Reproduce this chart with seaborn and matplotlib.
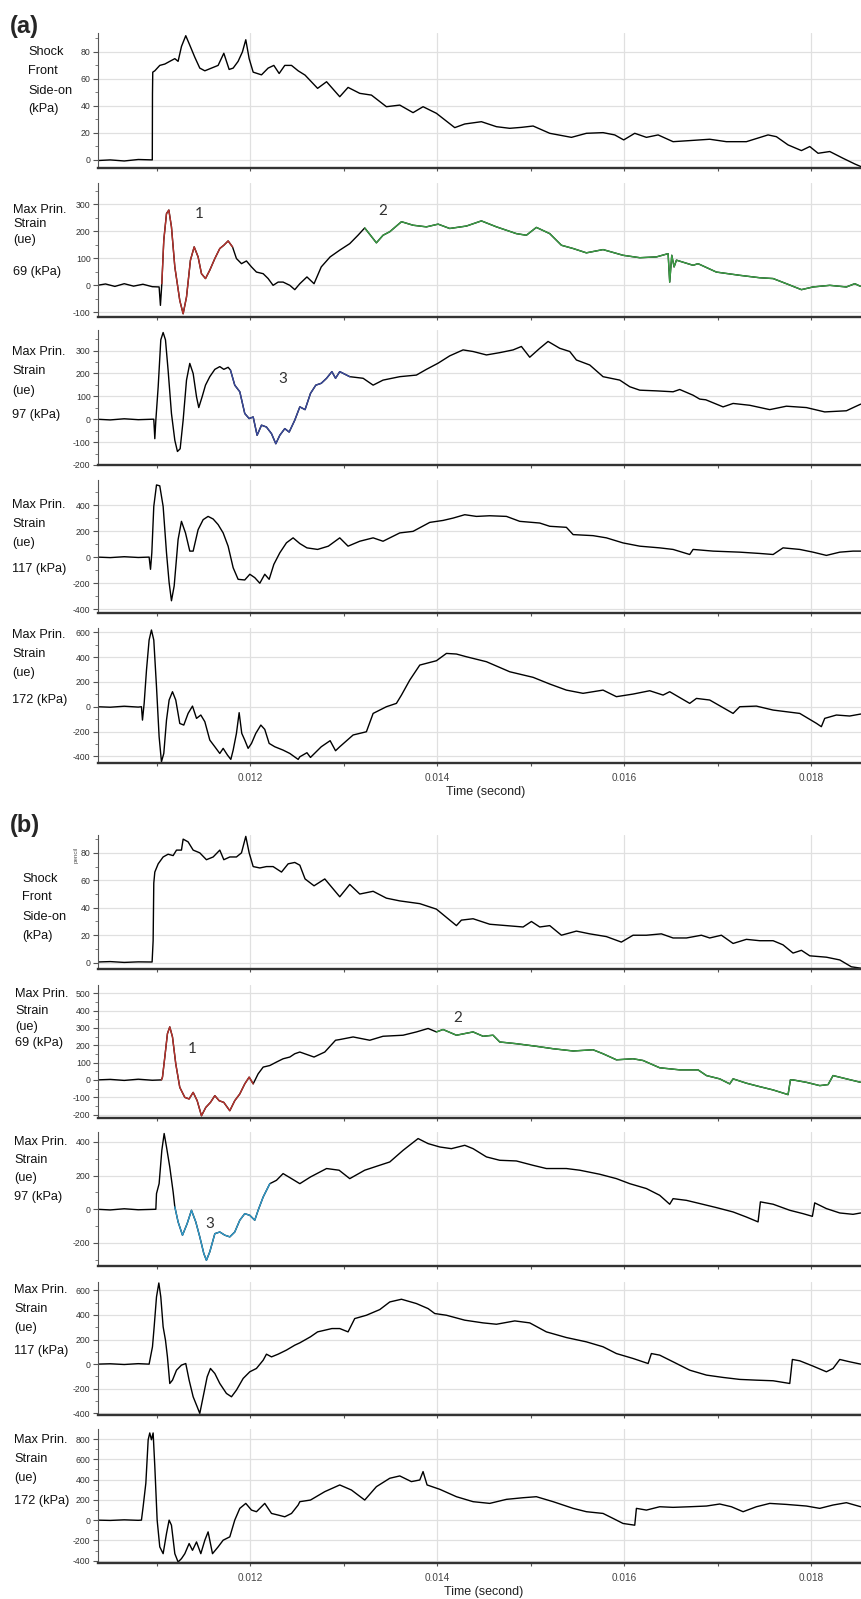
import numpy as np
import matplotlib
matplotlib.use("Agg")
import matplotlib.pyplot as plt
import seaborn as sns
from matplotlib.ticker import MultipleLocator, FormatStrFormatter

sns.set_style("ticks")
plt.rcParams["font.family"] = ["Liberation Sans", "DejaVu Sans"]
plt.rcParams["axes.unicode_minus"] = False

# ---------------- traces (time in ms) ----------------
# (a) shock front side-on pressure, kPa
a1_t = [10.36, 10.5, 10.65, 10.8, 10.95, 10.952, 10.955, 10.977, 11.030, 11.084, 11.137, 11.191,
        11.226, 11.262, 11.308, 11.351, 11.405, 11.458, 11.512, 11.583, 11.654, 11.715, 11.772,
        11.815, 11.868, 11.914, 11.950, 11.986, 12.029, 12.118, 12.189, 12.250, 12.307, 12.367,
        12.439, 12.510, 12.584, 12.718, 12.814, 12.955, 13.044, 13.169, 13.294, 13.454, 13.597,
        13.739, 13.846, 13.989, 14.185, 14.292, 14.470, 14.631, 14.773, 14.898, 15.023, 15.201,
        15.433, 15.593, 15.771, 15.896, 15.992, 16.110, 16.235, 16.360, 16.520, 16.698, 16.912,
        17.090, 17.304, 17.536, 17.625, 17.750, 17.893, 17.982, 18.071, 18.196, 18.338, 18.463, 18.527]
a1_v = [-0.5, 0, -0.8, 0.3, 0, 49, 65, 66, 70, 71, 73, 75,
        73, 84, 92, 85, 76, 68, 66, 68, 70, 79, 67,
        68, 73, 80, 89, 75, 65, 63, 68, 70, 64, 70,
        70, 66, 62.8, 53, 57.9, 46.8, 53.7, 49.3, 48, 39.4, 40.6,
        35, 39.4, 34.5, 23.9, 26.6, 28.3, 24.6, 23.4, 24.1, 25.1, 19.7,
        16.7, 19.7, 20.2, 18.5, 14.8, 19.7, 16.7, 18.5, 13.5, 14.3, 15.3,
        13.5, 13.5, 18.5, 17.2, 11.1, 6.9, 9.9, 4.9, 6.2, 1.2, -3, -4.9]

# (a) strain, 69 kPa
a2_t = [10.36, 10.45, 10.55, 10.65, 10.75, 10.85, 10.95, 11.023, 11.037, 11.052, 11.073, 11.102,
        11.127, 11.155, 11.191, 11.244, 11.280, 11.316, 11.358, 11.398, 11.440, 11.476, 11.519,
        11.565, 11.619, 11.672, 11.715, 11.761, 11.808, 11.850, 11.904, 11.957, 12.011, 12.064,
        12.136, 12.189, 12.242, 12.296, 12.349, 12.421, 12.474, 12.528, 12.604, 12.680, 12.757,
        12.852, 12.955, 13.062, 13.150, 13.222, 13.347, 13.418, 13.490, 13.615, 13.739, 13.882,
        14.007, 14.131, 14.310, 14.470, 14.631, 14.844, 14.951, 15.058, 15.201, 15.326, 15.451,
        15.593, 15.771, 15.985, 16.164, 16.342, 16.467, 16.484, 16.506, 16.531, 16.556, 16.734,
        16.787, 16.983, 17.233, 17.447, 17.590, 17.732, 17.893, 18.017, 18.196, 18.374, 18.463, 18.527]
a2_v = [0, 5, -4, 6, -3, 4, -5, -6, -74, 6, 167, 265,
        278, 216, 68, -56, -105, -43, 93, 142, 105, 43, 25,
        56, 99, 136, 148, 164, 142, 99, 80, 90, 68, 49,
        43, 25, 0, 12, 12, 0, -16, 6, 31, 6, 68,
        105, 130, 154, 185, 212, 157, 185, 198, 235, 222, 216,
        226, 210, 219, 238, 216, 191, 185, 214, 191, 148, 136,
        120, 132, 111, 102, 105, 117, 12, 111, 68, 93, 74,
        80, 49, 37, 28, 25, 6, -16, -6, 0, -6, 6, -4]

# (a) strain, 97 kPa
a3_t = [10.36, 10.5, 10.65, 10.8, 10.95, 10.966, 10.977, 10.988, 11.013, 11.041, 11.066, 11.091,
        11.119, 11.155, 11.191, 11.219, 11.248, 11.280, 11.316, 11.351, 11.387, 11.423, 11.447,
        11.483, 11.519, 11.565, 11.619, 11.672, 11.715, 11.761, 11.786, 11.832, 11.886, 11.939,
        11.986, 12.029, 12.071, 12.118, 12.171, 12.225, 12.271, 12.314, 12.367, 12.414, 12.474,
        12.528, 12.584, 12.642, 12.699, 12.757, 12.814, 12.871, 12.910, 12.955, 13.062, 13.205,
        13.312, 13.418, 13.597, 13.775, 13.882, 14.007, 14.131, 14.274, 14.381, 14.524, 14.666,
        14.809, 14.898, 14.987, 15.094, 15.183, 15.308, 15.415, 15.486, 15.629, 15.771, 15.950,
        16.057, 16.164, 16.342, 16.520, 16.591, 16.734, 16.805, 16.870, 17.055, 17.162, 17.340,
        17.554, 17.732, 17.946, 18.142, 18.374, 18.463, 18.527]
a3_v = [0, -3, 2, -2, 0, 0, -85, -4, 142, 347, 379, 347,
        215, 25, -92, -141, -129, -4, 171, 244, 200, 98, 51,
        98, 149, 186, 218, 230, 218, 227, 215, 149, 120, 25,
        3, 10, -70, -26, -34, -63, -107, -70, -41, -56, -4,
        54, 42, 113, 149, 157, 179, 208, 179, 208, 186, 179,
        149, 171, 186, 193, 218, 245, 277, 303, 296, 281, 291,
        303, 318, 271, 310, 340, 310, 296, 259, 237, 186, 171,
        142, 127, 124, 120, 130, 105, 88, 85, 54, 69, 61,
        42, 57, 51, 32, 37, 54, 66]

# (a) strain, 117 kPa
a4_t = [10.36, 10.5, 10.65, 10.8, 10.916, 10.931, 10.945, 10.966, 10.995, 11.030, 11.066, 11.102,
        11.130, 11.155, 11.184, 11.226, 11.262, 11.305, 11.351, 11.387, 11.440, 11.494, 11.547,
        11.601, 11.654, 11.708, 11.761, 11.815, 11.868, 11.939, 11.993, 12.046, 12.100, 12.153,
        12.200, 12.250, 12.314, 12.385, 12.456, 12.528, 12.604, 12.718, 12.833, 12.955, 13.044,
        13.169, 13.312, 13.418, 13.597, 13.739, 13.918, 14.060, 14.167, 14.292, 14.417, 14.559,
        14.738, 14.880, 15.094, 15.201, 15.379, 15.451, 15.664, 15.807, 15.985, 16.164, 16.377,
        16.520, 16.698, 16.734, 16.948, 17.233, 17.447, 17.590, 17.696, 17.875, 18.017, 18.160,
        18.303, 18.445, 18.527]
a4_v = [0, -4, 3, -3, 0, -94, 33, 390, 555, 548, 390, 33,
        -196, -336, -222, 135, 275, 186, 46, 46, 211, 288, 313,
        293, 250, 186, 84, -82, -171, -176, -132, -158, -201, -132,
        -171, -56, 33, 110, 148, 104, 71, 59, 84, 148, 84,
        122, 148, 122, 186, 198, 267, 282, 300, 326, 313, 318,
        313, 275, 262, 237, 229, 173, 165, 148, 109, 84, 71,
        59, 20, 59, 46, 38, 28, 20, 71, 59, 38, 13,
        38, 46, 46]

# (a) strain, 172 kPa
a5_t = [10.36, 10.5, 10.65, 10.8, 10.834, 10.845, 10.863, 10.888, 10.916, 10.941, 10.966, 10.995,
        11.023, 11.048, 11.073, 11.102, 11.130, 11.166, 11.201, 11.244, 11.287, 11.333, 11.380,
        11.423, 11.469, 11.512, 11.565, 11.619, 11.672, 11.708, 11.754, 11.790, 11.815, 11.850,
        11.879, 11.907, 11.939, 11.975, 12.011, 12.057, 12.111, 12.153, 12.200, 12.260, 12.349,
        12.421, 12.510, 12.528, 12.604, 12.642, 12.757, 12.852, 12.910, 12.955, 13.098, 13.240,
        13.312, 13.454, 13.561, 13.615, 13.704, 13.811, 13.989, 14.096, 14.203, 14.310, 14.524,
        14.773, 15.023, 15.201, 15.379, 15.557, 15.771, 15.914, 16.092, 16.270, 16.413, 16.484,
        16.698, 16.770, 16.912, 17.162, 17.233, 17.411, 17.590, 17.875, 18.053, 18.106, 18.142,
        18.267, 18.409, 18.527]
a5_v = [0, -4, 4, -3, 0, -108, 27, 296, 538, 619, 538, 161,
        -242, -444, -377, -108, 54, 121, 54, -135, -148, -54, 5,
        -94, -67, -121, -269, -323, -377, -336, -390, -425, -350, -215,
        -48, -215, -269, -336, -296, -215, -148, -183, -296, -323, -350,
        -377, -425, -404, -371, -409, -323, -274, -355, -323, -228, -202,
        -54, 0, 27, 94, 215, 336, 371, 430, 425, 403, 363,
        282, 237, 183, 134, 108, 134, 81, 102, 129, 94, 121,
        27, 67, 54, -54, 0, 5, -27, -54, -134, -161, -94,
        -67, -75, -59]

# (b) shock front side-on pressure, kPa
b1_t = [10.36, 10.5, 10.65, 10.8, 10.948, 10.959, 10.966, 10.977, 11.013, 11.066, 11.119, 11.173,
        11.209, 11.262, 11.280, 11.333, 11.387, 11.458, 11.529, 11.601, 11.672, 11.715, 11.779,
        11.850, 11.904, 11.950, 11.986, 12.029, 12.100, 12.171, 12.242, 12.332, 12.403, 12.474,
        12.528, 12.584, 12.680, 12.795, 12.955, 13.062, 13.169, 13.312, 13.454, 13.597, 13.811,
        13.989, 14.096, 14.203, 14.256, 14.381, 14.559, 14.738, 14.916, 15.005, 15.094, 15.201,
        15.326, 15.486, 15.629, 15.807, 15.967, 16.092, 16.235, 16.395, 16.520, 16.663, 16.823,
        16.912, 17.037, 17.162, 17.304, 17.447, 17.590, 17.696, 17.803, 17.893, 17.982, 18.160,
        18.303, 18.427, 18.527]
b1_v = [0.5, 0.8, 0.2, 0.6, 0.5, 16, 58, 66, 72, 77, 79, 78,
        82, 82, 90, 88, 82, 80, 75, 77, 82, 75, 77,
        77, 80, 92, 80, 70, 69, 70, 70, 66, 72, 73,
        71, 61, 56, 61, 48, 57, 50, 52, 47, 45, 43,
        39, 33, 27, 31, 32, 28, 27, 26, 30, 26, 27,
        20, 23, 21, 19, 15, 20, 20, 21, 18, 18, 20,
        18, 20, 14, 17, 16, 16, 13, 7, 9, 5, 4,
        2, -3, -4]

# (b) strain, 69 kPa
b2_t = [10.36, 10.5, 10.65, 10.8, 10.95, 11.048, 11.059, 11.084, 11.112, 11.137, 11.166, 11.201,
        11.244, 11.298, 11.344, 11.387, 11.430, 11.476, 11.522, 11.572, 11.619, 11.665, 11.715,
        11.779, 11.832, 11.886, 11.939, 11.986, 12.029, 12.082, 12.136, 12.207, 12.278, 12.349,
        12.421, 12.474, 12.528, 12.680, 12.795, 12.910, 12.955, 13.098, 13.276, 13.418, 13.632,
        13.775, 13.900, 13.989, 14.060, 14.203, 14.381, 14.488, 14.595, 14.666, 14.844, 15.058,
        15.237, 15.451, 15.664, 15.771, 15.914, 16.092, 16.199, 16.377, 16.591, 16.787, 16.877,
        17.019, 17.126, 17.162, 17.304, 17.447, 17.590, 17.750, 17.775, 17.803, 17.946, 18.089,
        18.178, 18.231, 18.374, 18.527]
b2_v = [0, 3, -3, 4, -2, 0, 16, 132, 267, 306, 248, 93,
        -43, -101, -110, -72, -120, -207, -159, -130, -91, -120, -130,
        -178, -120, -81, -23, 16, -23, 35, 74, 83, 103, 122,
        132, 151, 161, 132, 161, 229, 233, 248, 229, 252, 258,
        277, 297, 277, 291, 258, 277, 252, 258, 219, 209, 194,
        180, 167, 174, 151, 116, 122, 112, 70, 58, 58, 25,
        6, -23, 6, -19, -39, -58, -85, 0, 0, -14, -33,
        -27, 25, 6, -14]

# (b) strain, 97 kPa
b3_t = [10.36, 10.5, 10.65, 10.8, 10.988, 10.995, 11.023, 11.052, 11.077, 11.102, 11.137, 11.173,
        11.191, 11.226, 11.273, 11.323, 11.369, 11.415, 11.458, 11.501, 11.529, 11.565, 11.619,
        11.672, 11.726, 11.779, 11.832, 11.886, 11.939, 11.993, 12.046, 12.082, 12.136, 12.207,
        12.278, 12.349, 12.439, 12.528, 12.642, 12.814, 12.948, 13.062, 13.222, 13.347, 13.490,
        13.632, 13.793, 13.900, 14.025, 14.149, 14.292, 14.381, 14.524, 14.666, 14.844, 15.023,
        15.165, 15.379, 15.522, 15.736, 15.914, 16.057, 16.235, 16.377, 16.484, 16.520, 16.663,
        16.805, 16.983, 17.162, 17.304, 17.429, 17.454, 17.590, 17.768, 17.910, 18.010, 18.035,
        18.160, 18.303, 18.445, 18.527]
b3_v = [0, -4, 3, -3, 0, 93, 152, 350, 450, 370, 251, 103,
        14, -75, -154, -85, -6, -75, -164, -263, -303, -253, -145,
        -135, -154, -164, -135, -65, -26, -36, -65, -6, 73, 152,
        172, 212, 182, 152, 192, 242, 232, 182, 232, 255, 281,
        350, 420, 390, 370, 360, 380, 360, 311, 291, 287, 261,
        242, 242, 232, 208, 182, 152, 123, 83, 30, 63, 53,
        34, 10, -16, -46, -75, 44, 30, -6, -26, -42, 38,
        4, -22, -30, -22]

# (b) strain, 117 kPa
b4_t = [10.36, 10.5, 10.65, 10.8, 10.916, 10.931, 10.952, 10.970, 10.995, 11.020, 11.041, 11.066,
        11.091, 11.112, 11.137, 11.166, 11.209, 11.262, 11.308, 11.344, 11.387, 11.430, 11.458,
        11.494, 11.537, 11.572, 11.619, 11.672, 11.743, 11.797, 11.850, 11.922, 11.993, 12.064,
        12.136, 12.171, 12.225, 12.296, 12.385, 12.474, 12.528, 12.642, 12.718, 12.871, 12.955,
        13.044, 13.115, 13.240, 13.383, 13.490, 13.615, 13.775, 13.900, 13.971, 14.096, 14.292,
        14.488, 14.631, 14.827, 14.987, 15.165, 15.379, 15.593, 15.771, 15.914, 16.092, 16.253,
        16.288, 16.377, 16.520, 16.698, 16.877, 17.055, 17.233, 17.411, 17.590, 17.768, 17.796,
        17.875, 18.017, 18.160, 18.231, 18.303, 18.409, 18.527]
b4_v = [0, 3, -3, 4, 0, 59, 141, 303, 546, 659, 546, 303,
        195, 59, -157, -130, -49, -8, 5, -130, -265, -346, -400,
        -265, -103, -35, -76, -157, -238, -265, -211, -116, -62, -35,
        32, 81, 59, 81, 114, 154, 173, 222, 262, 289, 289,
        262, 370, 397, 443, 505, 527, 492, 451, 411, 397, 357,
        335, 324, 351, 335, 262, 216, 181, 141, 86, 46, 5,
        86, 73, 19, -49, -89, -108, -124, -130, -135, -157, 38,
        27, -16, -62, -35, 38, 19, 0]

# (b) strain, 172 kPa
b5_t = [10.36, 10.5, 10.65, 10.8, 10.834, 10.852, 10.881, 10.906, 10.923, 10.941, 10.959, 10.977,
        11.002, 11.030, 11.066, 11.102, 11.130, 11.155, 11.191, 11.226, 11.262, 11.298, 11.344,
        11.380, 11.423, 11.469, 11.512, 11.547, 11.594, 11.654, 11.708, 11.779, 11.832, 11.886,
        11.950, 12.011, 12.064, 12.153, 12.225, 12.296, 12.367, 12.439, 12.510, 12.528, 12.642,
        12.795, 12.955, 13.080, 13.222, 13.347, 13.490, 13.597, 13.721, 13.811, 13.846, 13.889,
        14.025, 14.203, 14.381, 14.559, 14.738, 14.916, 15.058, 15.237, 15.451, 15.593, 15.771,
        15.878, 15.985, 16.110, 16.128, 16.235, 16.377, 16.520, 16.698, 16.877, 17.019, 17.144,
        17.269, 17.411, 17.554, 17.732, 17.946, 18.089, 18.231, 18.374, 18.527]
b5_v = [0, -3, 3, -2, 0, 132, 364, 793, 860, 793, 860, 529,
        0, -264, -331, -132, 0, -50, -331, -413, -380, -331, -231,
        -298, -215, -331, -198, -116, -331, -264, -198, -165, 0, 116,
        165, 99, 83, 165, 66, 50, 33, 66, 149, 182, 198,
        281, 347, 297, 198, 330, 413, 436, 380, 396, 479, 347,
        304, 231, 182, 165, 205, 221, 231, 182, 116, 83, 66,
        17, -33, -50, 116, 99, 132, 126, 132, 139, 159, 132,
        83, 132, 165, 155, 139, 116, 149, 172, 132]

x_ticks_major = [0.012, 0.014, 0.016, 0.018]

# --------------------------- layout / styling ---------------------------
W, H = 861, 1599
fig = plt.figure(figsize=(W / 100, H / 100), dpi=100)
L = 97.5 / W
XLIM = (10.364e-3, 18.53e-3)

RED, GREEN, BLUE, CYAN = "#b8322c", "#3a9e44", "#3a4a9e", "#2f9bcc"

panels = [
    dict(t=a1_t, v=a1_v, top=33, bot=168, ylim=(-6, 94), step=20, lo=0, hi=80, hl=[]),
    dict(t=a2_t, v=a2_v, top=183, bot=317, ylim=(-117, 378), step=100, lo=-100, hi=300,
         hl=[(11.048, 11.832, RED), (13.222, 18.6, GREEN)],
         notes=[(11.451, 265, "1"), (13.411, 275, "2")]),
    dict(t=a3_t, v=a3_v, top=330, bot=465, ylim=(-200, 390), step=100, lo=-200, hi=300,
         hl=[(11.786, 13.062, BLUE)], notes=[(12.342, 174, "3")]),
    dict(t=a4_t, v=a4_v, top=480, bot=613, ylim=(-430, 593), step=200, lo=-400, hi=400, hl=[]),
    dict(t=a5_t, v=a5_v, top=628, bot=763, ylim=(-454, 635), step=200, lo=-400, hi=600, hl=[],
         xlab=True),
    dict(t=b1_t, v=b1_v, top=835, bot=969, ylim=(-4.6, 93), step=20, lo=0, hi=80, hl=[]),
    dict(t=b2_t, v=b2_v, top=985, bot=1118, ylim=(-220, 548), step=100, lo=-200, hi=500,
         hl=[(11.048, 12.046, RED), (13.989, 18.6, GREEN)],
         notes=[(11.380, 180, "1"), (14.221, 355, "2")]),
    dict(t=b3_t, v=b3_v, top=1132, bot=1266, ylim=(-337, 459), step=200, lo=-200, hi=400,
         hl=[(11.191, 12.207, CYAN)], notes=[(11.565, -85, "3")]),
    dict(t=b4_t, v=b4_v, top=1282, bot=1415, ylim=(-413, 667), step=200, lo=-400, hi=600, hl=[]),
    dict(t=b5_t, v=b5_v, top=1429, bot=1563, ylim=(-423, 899), step=200, lo=-400, hi=800, hl=[],
         xlab=True),
]

for p in panels:
    ax = fig.add_axes([L, 1 - p["bot"] / H, 1 - L, (p["bot"] - p["top"]) / H])
    t = np.array(p["t"]) / 1000.0
    v = np.array(p["v"])
    sns.lineplot(x=t, y=v, ax=ax, color="black", lw=1.0, estimator=None, sort=False)
    for t0, t1, c in p["hl"]:
        m = (t >= t0 / 1000.0) & (t <= t1 / 1000.0)
        sns.lineplot(x=t[m], y=v[m], ax=ax, color=c, lw=1.0, estimator=None, sort=False)
    for tx, vy, s in p.get("notes", []):
        ax.text(tx / 1000.0, vy, s, fontsize=11, family=["Lato", "DejaVu Sans"],
                color="#333333", ha="center", va="center")

    ax.set_xlim(*XLIM)
    ax.set_ylim(*p["ylim"])
    ax.set_xticks(x_ticks_major)
    ax.xaxis.set_minor_locator(MultipleLocator(0.001))
    ax.set_yticks(np.arange(p["lo"], p["hi"] + 1, p["step"]))
    ax.yaxis.set_minor_locator(MultipleLocator(p["step"] / 2))
    ax.grid(True, which="major", color="#e0e0e0", lw=0.9)
    ax.set_axisbelow(True)
    for s in ("top", "right"):
        ax.spines[s].set_visible(False)
    ax.spines["left"].set_color("#555555")
    ax.spines["left"].set_linewidth(0.8)
    ax.spines["bottom"].set_color("#333333")
    ax.spines["bottom"].set_linewidth(1.7)
    ax.tick_params(axis="y", which="major", length=3.5, width=0.8, color="#555555",
                   labelsize=6.3, labelcolor="#333333", pad=1.5)
    ax.tick_params(axis="y", which="minor", length=2, width=0.6, color="#666666")
    ax.tick_params(axis="x", which="both", length=2.5, width=0.8, color="#555555",
                   labelsize=7.2, labelcolor="#444444", pad=5)
    ax.set_xlabel("")
    ax.set_ylabel("")
    if p.get("xlab"):
        ax.xaxis.set_major_formatter(FormatStrFormatter("%.3f"))
    else:
        ax.set_xticklabels([])

# row labels (left column)
shock = ["Shock", "Front", "Side-on", "(kPa)"]
strain = ["Max Prin.", "Strain", "(ue)"]
row_text = [
    (28, [52, 71, 91, 109], shock),
    (13, [210, 224, 240, 272], strain + ["69 (kPa)"]),
    (12, [352, 371, 391, 415], strain + ["97 (kPa)"]),
    (12, [505, 524, 543, 569], strain + ["117 (kPa)"]),
    (12, [635, 654, 673, 700], strain + ["172 (kPa)"]),
    (22, [879, 897, 917, 936], shock),
    (15, [994, 1011, 1027, 1043], strain + ["69 (kPa)"]),
    (14, [1142, 1160, 1178, 1197], strain + ["97 (kPa)"]),
    (14, [1290, 1309, 1328, 1351], strain + ["117 (kPa)"]),
    (14, [1440, 1459, 1478, 1501], strain + ["172 (kPa)"]),
]
for x0, ys, lines in row_text:
    for yy, s in zip(ys, lines):
        fig.text(x0 / W, 1 - yy / H, s, fontsize=9.2, color="#111111", ha="left", va="center")

fig.text(76 / W, 1 - 855 / H, "pencil", fontsize=4.5, rotation=90, color="#555555",
         ha="center", va="center")

fig.text(10 / W, 1 - 26 / H, "(a)", fontsize=17, fontweight="bold", ha="left", va="center")
fig.text(10 / W, 1 - 826 / H, "(b)", fontsize=17, fontweight="bold", ha="left", va="center")
fig.text(486 / W, 1 - 792 / H, "Time (second)", fontsize=9, color="#222222",
         ha="center", va="center")
fig.text(484 / W, 1 - 1592 / H, "Time (second)", fontsize=9, color="#222222",
         ha="center", va="center")

fig.savefig("out.png", dpi=100, facecolor="white")
